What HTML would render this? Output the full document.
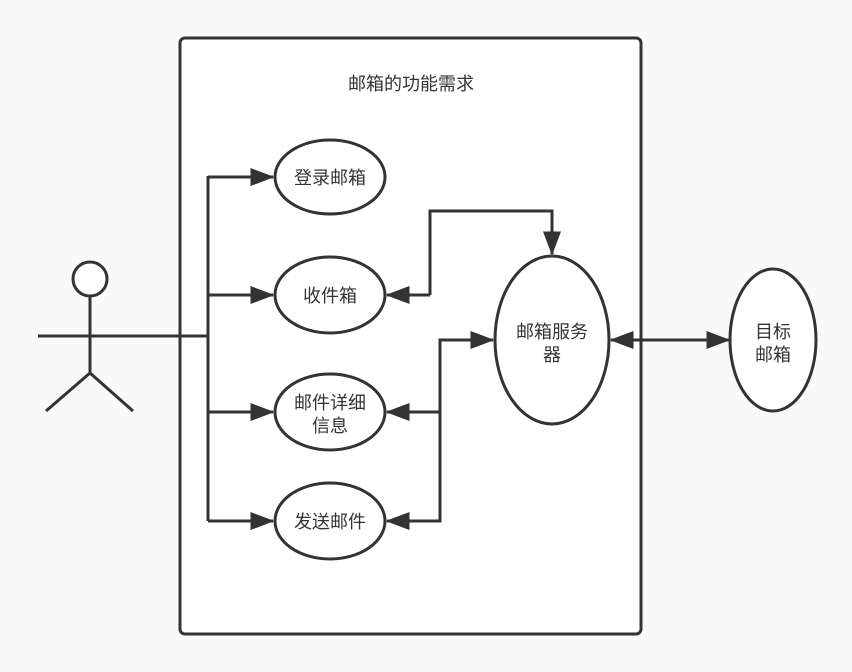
<!DOCTYPE html>
<html><head><meta charset="utf-8"><style>
html,body{margin:0;padding:0;background:#f9f9f9;}
svg{display:block}
text{font-family:"Liberation Sans","Noto Sans CJK SC",sans-serif;fill:#333;}
</style></head><body>
<svg width="852" height="672" viewBox="0 0 852 672">
<defs>
<marker id="a" markerWidth="8" markerHeight="6" refX="7.5" refY="3" orient="auto" markerUnits="strokeWidth">
<path d="M0,0 L8,3 L0,6 Z" fill="#333"/>
</marker>
</defs>
<rect x="180" y="38" width="461" height="596" rx="5" fill="#fff" stroke="#333" stroke-width="3"/>
<text x="411" y="90" font-size="18" text-anchor="middle">邮箱的功能需求</text>
<g fill="#fff" stroke="#333" stroke-width="3">
<ellipse cx="330" cy="177" rx="55" ry="37"/>
<ellipse cx="330" cy="295" rx="55" ry="38"/>
<ellipse cx="330" cy="412" rx="55" ry="38"/>
<ellipse cx="330" cy="521" rx="55" ry="38"/>
<ellipse cx="552" cy="340" rx="57" ry="84"/>
<ellipse cx="773" cy="340" rx="43" ry="71"/>
<circle cx="90" cy="279" r="17"/>
</g>
<g stroke="#333" stroke-width="3" fill="none">
<line x1="90" y1="296" x2="90" y2="373"/>
<line x1="38" y1="336" x2="142" y2="336"/>
<line x1="90" y1="373" x2="46" y2="411"/>
<line x1="90" y1="373" x2="133" y2="411"/>
<polyline points="142,336 208,336"/>
<line x1="208" y1="176" x2="208" y2="521"/>
<line x1="208" y1="177" x2="273" y2="177" marker-end="url(#a)"/>
<line x1="208" y1="295" x2="273" y2="295" marker-end="url(#a)"/>
<line x1="208" y1="412" x2="273" y2="412" marker-end="url(#a)"/>
<line x1="208" y1="521" x2="273" y2="521" marker-end="url(#a)"/>
<polyline points="430,295 430,211 552,211 552,254" marker-end="url(#a)"/>
<line x1="430" y1="295" x2="387" y2="295" marker-end="url(#a)"/>
<polyline points="440,412 440,340 493,340" marker-end="url(#a)"/>
<line x1="440" y1="412" x2="387" y2="412" marker-end="url(#a)"/>
<polyline points="440,412 440,521 387,521" marker-end="url(#a)"/>
<line x1="670" y1="340" x2="611" y2="340" marker-end="url(#a)"/>
<line x1="670" y1="340" x2="729" y2="340" marker-end="url(#a)"/>
</g>
<g font-size="18" text-anchor="middle">
<text x="330" y="184">登录邮箱</text>
<text x="330" y="302">收件箱</text>
<text x="330" y="409">邮件详细</text>
<text x="330" y="432">信息</text>
<text x="330" y="528">发送邮件</text>
<text x="552" y="338">邮箱服务</text>
<text x="552" y="361">器</text>
<text x="773" y="338">目标</text>
<text x="773" y="361">邮箱</text>
</g>
</svg>
</body></html>
